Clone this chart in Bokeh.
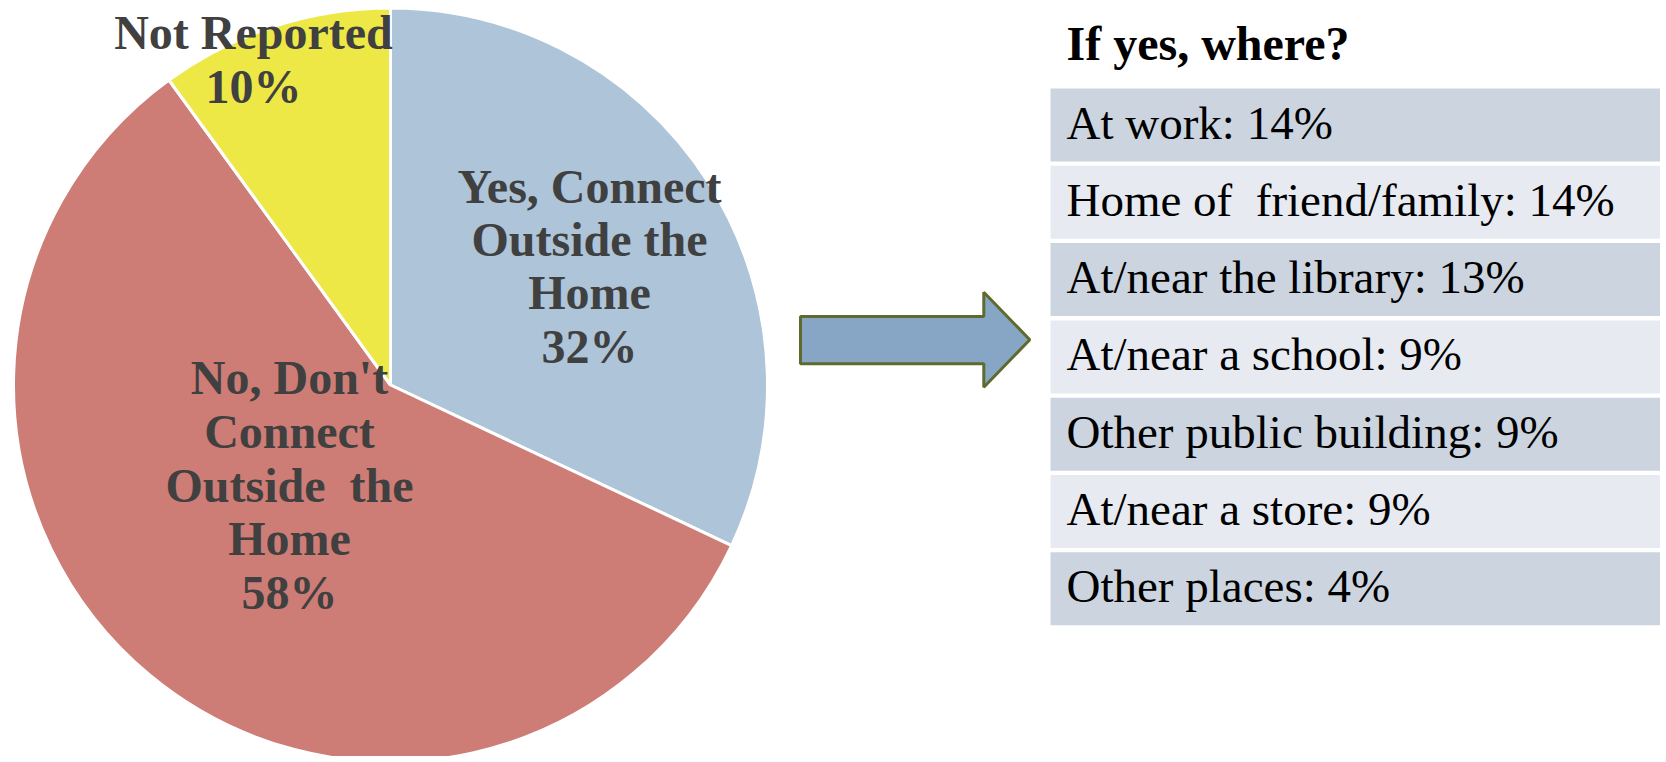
import math
from bokeh.plotting import figure
from bokeh.models import Range1d, ColumnDataSource
from bokeh.core.properties import value
from bokeh.embed import file_html
from bokeh.resources import INLINE

# ---- data ----
pie_labels = ["Yes, Connect\nOutside the\nHome\n32%",
              "No, Don't\nConnect\nOutside  the\nHome\n58%",
              "Not Reported\n10%"]
pie_values = [32, 58, 10]
pie_colors = ["#ADC4D9", "#CE7D76", "#EDE846"]

table_title = "If yes, where?"
places = ["At work", "Home of\u00a0 friend/family", "At/near the library",
          "At/near a school", "Other public building", "At/near a store",
          "Other places"]
place_pct = [14, 14, 13, 9, 9, 9, 4]
row_colors = ["#CCD5DF", "#E7EBF1"]

# ---- layout (reference pixel space) ----
W, H = 1660, 756
FULL_H = 762
TXT_FIX = 16  # baseline correction for svg text placement

def Y(v):
    return FULL_H - v

p = figure(width=W, height=H, output_backend="svg", toolbar_location=None,
           x_range=Range1d(0, W), y_range=Range1d(FULL_H - H, FULL_H),
           min_border=0, outline_line_color=None)
p.axis.visible = False
p.grid.visible = False
p.background_fill_color = "white"

# pie
cx, cy, r = 390, Y(384.5), 377
total = float(sum(pie_values))
starts, ends = [], []
acc = 0.0
for v in pie_values:
    starts.append(math.pi / 2 - 2 * math.pi * acc / total)
    acc += v
    ends.append(math.pi / 2 - 2 * math.pi * acc / total)
src = ColumnDataSource(dict(start=starts, end=ends, color=pie_colors))
p.wedge(x=cx, y=cy, radius=r, start_angle="start", end_angle="end",
        direction="clock", fill_color="color", line_color="white",
        line_width=3, source=src)

label_pos = [(589, 201.7, 53.3), (289, 393.3, 53.7), (253, 48.3, 53.4)]
lx, ly, lt = [], [], []
for lab, (x0, y0, step) in zip(pie_labels, label_pos):
    for i, line in enumerate(lab.split("\n")):
        lx.append(x0)
        ly.append(Y(y0 + i * step - TXT_FIX))
        lt.append(line.replace("  ", "\u00a0 "))
p.text(x=lx, y=ly, text=lt, text_align="center", text_baseline="alphabetic",
       text_font=value("Liberation Serif"), text_font_style="bold",
       text_font_size="48px", text_color="#404040")

# arrow
ax = [800, 983.3, 983.3, 1029.3, 983.3, 983.3, 800]
ay = [316, 316, 291.7, 339.3, 386.7, 363.3, 363.3]
p.patch(x=ax, y=[Y(v) for v in ay], fill_color="#87A5C5",
        line_color="#5F6B2E", line_width=3)

# table
row_top0, pitch, row_h = 88, 77.3, 73
tops = [row_top0 + i * pitch for i in range(len(places))]
p.quad(left=1050, right=1663, top=[Y(t) for t in tops],
       bottom=[Y(t + row_h) for t in tops],
       fill_color=[row_colors[i % 2] for i in range(len(places))],
       line_color=None)
p.text(x=1066, y=[Y(t + 50 - TXT_FIX) for t in tops],
       text=[f"{a}: {b}%" for a, b in zip(places, place_pct)],
       text_align="left", text_baseline="alphabetic",
       text_font=value("Liberation Serif"), text_font_size="47px",
       text_color="#000000")
p.text(x=[1066], y=[Y(59.3 - TXT_FIX)], text=[table_title], text_align="left",
       text_baseline="alphabetic", text_font=value("Liberation Serif"),
       text_font_style="bold", text_font_size="48px", text_color="#000000")

open("out.html", "w").write(file_html(p, INLINE))
